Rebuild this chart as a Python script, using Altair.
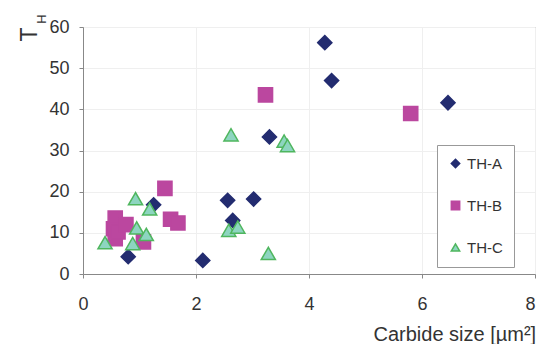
import altair as alt
import pandas as pd

series_names = ["TH-A", "TH-B", "TH-C"]

tha_x = [0.80, 1.25, 2.12, 2.56, 2.65, 3.02, 3.30, 4.28, 4.40, 6.46]
tha_y = [4.2, 16.8, 3.3, 17.9, 13.0, 18.2, 33.3, 56.2, 47.0, 41.6]

thb_x = [0.57, 0.54, 0.57, 0.62, 0.76, 1.07, 1.45, 1.55, 1.68, 3.23, 5.80]
thb_y = [13.6, 11.0, 8.6, 10.2, 12.0, 7.8, 20.8, 13.3, 12.4, 43.5, 39.0]

thc_x = [0.39, 0.88, 0.93, 0.95, 1.12, 1.18, 2.58, 2.62, 2.74, 3.28, 3.56, 3.62]
thc_y = [7.6, 7.4, 18.3, 11.2, 9.6, 15.8, 10.6, 33.8, 11.4, 5.0, 32.3, 31.2]

x_ticks = [0, 2, 4, 6, 8]
y_ticks = [0, 10, 20, 30, 40, 50, 60]

rows = []
for name, xs, ys in zip(series_names, [tha_x, thb_x, thc_x], [tha_y, thb_y, thc_y]):
    for a, b in zip(xs, ys):
        rows.append({"series": name, "size": a, "th": b})
df = pd.DataFrame(rows)

fills = ["#232c70", "#bb479f", "#8dd5c0"]
strokes = ["#232c70", "#bb479f", "#4fb65e"]
shapes = ["diamond", "square", "triangle-up"]

legend = alt.Legend(
    title=None, orient="none", legendX=354, legendY=118,
    labelFontSize=15, labelColor="#333", labelFont="Liberation Sans",
    labelExpr="datum.label + '" + "\u00a0" * 9 + "'",
    symbolSize=70, rowPadding=26, padding=11, labelOffset=4,
    strokeColor="#999", fillColor="white", symbolStrokeWidth=1.5,
)

points = alt.Chart(df).mark_point(filled=True, size=200, opacity=1, strokeWidth=1.5).encode(
    x=alt.X("size:Q", scale=alt.Scale(domain=[0, 8], nice=False),
            axis=alt.Axis(values=x_ticks, title="Carbide size [µm²]", titleX=290, titleY=66,
                          titleAlign="left", titleBaseline="alphabetic",
                          labelAlign=alt.ExprRef(expr="datum.value == 8 ? 'right' : 'center'"),
                          labelPadding=17, tickSize=4)),
    y=alt.Y("th:Q", scale=alt.Scale(domain=[0, 60], nice=False),
            axis=alt.Axis(values=y_ticks, title="T", titleX=-47, titleY=7, titleAngle=270,
                          titleAlign="center", titleBaseline="alphabetic", titleFontSize=23,
                          labelPadding=10, tickSize=4)),
    fill=alt.Fill("series:N", scale=alt.Scale(domain=series_names, range=fills), legend=legend),
    stroke=alt.Stroke("series:N", scale=alt.Scale(domain=series_names, range=strokes), legend=legend),
    shape=alt.Shape("series:N", scale=alt.Scale(domain=series_names, range=shapes), legend=legend),
)

sub = alt.Chart(pd.DataFrame({"t": ["H"]})).mark_text(
    angle=270, fontSize=13, font="Liberation Sans", color="#333",
    align="center", baseline="alphabetic"
).encode(text="t:N", x=alt.value(-37), y=alt.value(-8))

chart = alt.layer(points, sub).properties(
    width=452, height=247,
    autosize=alt.AutoSizeParams(type="none"),
    padding={"left": 75, "top": 19, "right": 1, "bottom": 70},
).configure_view(stroke="#999", strokeWidth=1).configure_axis(
    labelFontSize=18, titleFontSize=20, labelFont="Liberation Sans", titleFont="Liberation Sans",
    labelColor="#333", titleColor="#333", titleFontWeight="normal",
    domainColor="#888", tickColor="#888", gridColor="#efefef",
)

chart.save("out.html", embed_options={"renderer": "svg", "actions": False})
